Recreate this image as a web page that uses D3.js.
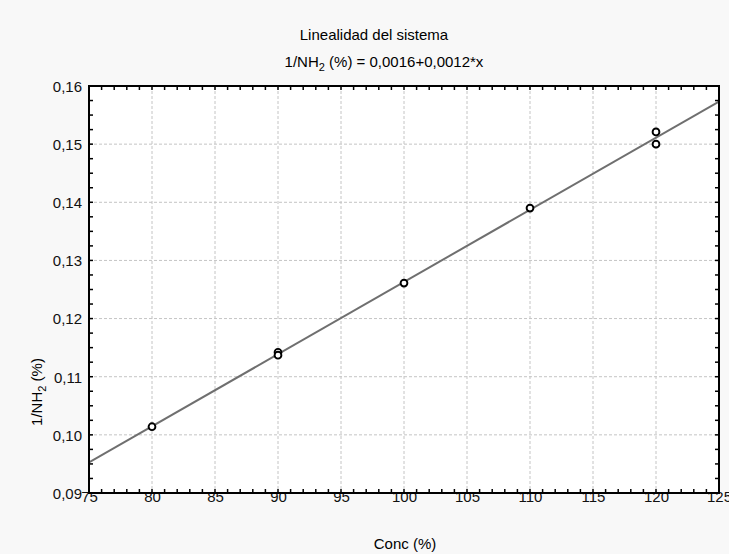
<!DOCTYPE html>
<html lang="es">
<head>
  <meta charset="UTF-8" />
  <title>Linealidad del sistema</title>
  <script src="https://d3js.org/d3.v7.min.js"></script>
  <style>
    body {
      margin: 0;
      background: #f8f8f8;
    }
    svg {
      font-family: 'Liberation Sans', Arial, sans-serif;
      display: block;
    }
    .grid line {
      stroke: #c4c4c4;
      stroke-dasharray: 3 2;
    }
    .tick text {
      font-size: 15px;
      fill: #111;
    }
  </style>
</head>
<body>
  <svg id="chart" width="729" height="554"></svg>

  <script>
    // data
    const conc = [80, 90, 90, 100, 110, 120, 120];
    const invNH = [0.1014, 0.1142, 0.1137, 0.1261, 0.1390, 0.1521, 0.1500];

    const xTicks = [75, 80, 85, 90, 95, 100, 105, 110, 115, 120, 125];
    const yTicks = [0.09, 0.10, 0.11, 0.12, 0.13, 0.14, 0.15, 0.16];

    const svg = d3.select("#chart"),
          width = +svg.attr("width"),
          height = +svg.attr("height");

    const margin = {top: 86, right: 10, bottom: 61, left: 89};
    const x0 = margin.left, x1 = width - margin.right;
    const y0 = height - margin.bottom, y1 = margin.top;

    const x = d3.scaleLinear().domain([75, 125]).range([x0, x1]);
    const y = d3.scaleLinear().domain([0.09, 0.16]).range([y0, y1]);

    // least squares line, as the original fit
    const mx = d3.mean(conc), my = d3.mean(invNH);
    const sxy = d3.sum(conc, (c, i) => (c - mx) * (invNH[i] - my));
    const sxx = d3.sum(conc, c => (c - mx) ** 2);
    const slope = sxy / sxx, icpt = my - slope * mx;

    // plot area
    svg.append("rect")
      .attr("x", x0).attr("y", y1)
      .attr("width", x1 - x0).attr("height", y0 - y1)
      .attr("fill", "#fff");

    // grid
    const grid = svg.append("g").attr("class", "grid");
    grid.selectAll("line.v")
      .data(xTicks.slice(1, -1))
      .join("line")
        .attr("x1", d => x(d)).attr("x2", d => x(d))
        .attr("y1", y1).attr("y2", y0);
    grid.selectAll("line.h")
      .data(yTicks.slice(1, -1))
      .join("line")
        .attr("x1", x0).attr("x2", x1)
        .attr("y1", d => y(d)).attr("y2", d => y(d));

    // fit line
    svg.append("clipPath").attr("id", "clip")
      .append("rect").attr("x", x0).attr("y", y1)
      .attr("width", x1 - x0).attr("height", y0 - y1);
    svg.append("line")
      .attr("clip-path", "url(#clip)")
      .attr("x1", x(75)).attr("y1", y(icpt + slope * 75))
      .attr("x2", x(125)).attr("y2", y(icpt + slope * 125))
      .attr("stroke", "#6f6f6f")
      .attr("stroke-width", 2);

    // points
    svg.append("g")
      .selectAll("circle")
      .data(conc)
      .join("circle")
        .attr("cx", d => x(d))
        .attr("cy", (d, i) => y(invNH[i]))
        .attr("r", 3.4)
        .attr("fill", "#fff")
        .attr("stroke", "#000")
        .attr("stroke-width", 1.9);

    // minor ticks
    const xMinor = d3.range(75, 126, 1);
    const yMinor = d3.range(0.09, 0.1601, 0.0025);
    const tk = svg.append("g").attr("stroke", "#000").attr("stroke-width", 1.5);
    tk.selectAll("line.xb").data(xMinor).join("line")
      .attr("x1", d => x(d)).attr("x2", d => x(d))
      .attr("y1", y0).attr("y2", y0 - 4);
    tk.selectAll("line.xt").data(xMinor).join("line")
      .attr("x1", d => x(d)).attr("x2", d => x(d))
      .attr("y1", y1).attr("y2", y1 + 4);
    tk.selectAll("line.yl").data(yMinor).join("line")
      .attr("x1", x0).attr("x2", x0 + 4)
      .attr("y1", d => y(d)).attr("y2", d => y(d));
    tk.selectAll("line.yr").data(yMinor).join("line")
      .attr("x1", x1).attr("x2", x1 - 4)
      .attr("y1", d => y(d)).attr("y2", d => y(d));

    // axes
    const fmtY = d => d3.format(".2f")(d).replace(".", ",");
    svg.append("g")
      .attr("transform", `translate(${x0},0)`)
      .call(d3.axisLeft(y).tickValues(yTicks).tickFormat(fmtY).tickSize(0).tickPadding(7))
      .call(g => g.select(".domain").remove())
      .call(g => g.selectAll("text").attr("dy", "0.36em"));

    svg.append("g")
      .attr("transform", `translate(0,${y0})`)
      .call(d3.axisBottom(x).tickValues(xTicks).tickSize(0).tickPadding(0))
      .call(g => g.select(".domain").remove())
      .call(g => g.selectAll("text").attr("dy", "0.36em").attr("y", 4));

    // frame
    svg.append("rect")
      .attr("x", x0).attr("y", y1)
      .attr("width", x1 - x0).attr("height", y0 - y1)
      .attr("fill", "none")
      .attr("stroke", "#000")
      .attr("stroke-width", 2);

    // titles
    svg.append("text")
      .attr("x", 374).attr("y", 40)
      .attr("text-anchor", "middle")
      .attr("font-size", 15)
      .text("Linealidad del sistema");

    const eq = svg.append("text")
      .attr("x", 384).attr("y", 67)
      .attr("text-anchor", "middle")
      .attr("font-size", 15);
    eq.append("tspan").text("1/NH");
    eq.append("tspan").attr("dy", 4).attr("font-size", 11).text("2");
    eq.append("tspan").attr("dy", -4).text(" (%) = 0,0016+0,0012*x");

    svg.append("text")
      .attr("x", 405).attr("y", 549)
      .attr("text-anchor", "middle")
      .attr("font-size", 15)
      .text("Conc (%)");

    const yl = svg.append("text")
      .attr("transform", "translate(42,392) rotate(-90)")
      .attr("text-anchor", "middle")
      .attr("font-size", 15);
    yl.append("tspan").text("1/NH");
    yl.append("tspan").attr("dy", 4).attr("font-size", 11).text("2");
    yl.append("tspan").attr("dy", -4).text(" (%)");
  </script>
</body>
</html>
